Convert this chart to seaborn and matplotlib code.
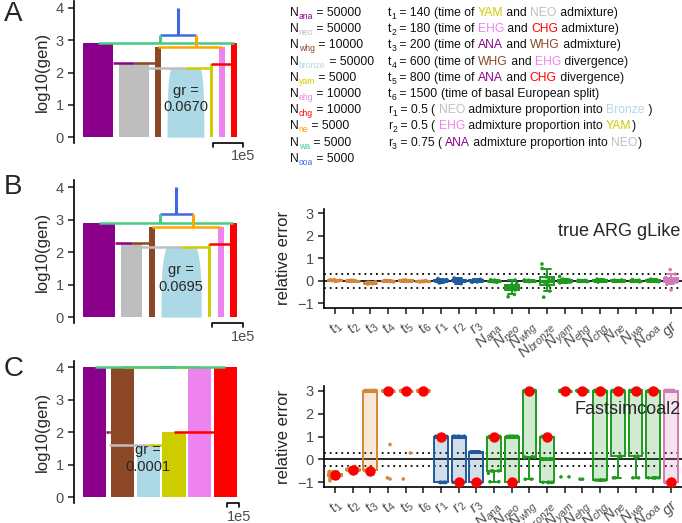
import numpy as np
import pandas as pd
import seaborn as sns
import matplotlib.pyplot as plt
from matplotlib.colors import to_rgba

# --- populations: colours and sizes used in the legend of panel A
pop_keys = ['ana', 'neo', 'whg', 'bronze', 'yam', 'ehg', 'chg', 'ne', 'wa', 'ooa']
pop_colors = ['#8B008B', '#BEBEBE', '#8B4726', '#ADD8E6', '#CDCD00',
              '#EE82EE', '#FF0000', '#FFA500', '#43CD80', '#4169E1']
pop_sizes = [50000, 50000, 10000, 50000, 5000, 10000, 10000, 5000, 5000, 5000]

time_values = [140, 180, 200, 600, 800, 1500]
time_notes = [
    [('(time of ', None), ('YAM', 'yam'), (' and ', None), ('NEO', 'neo'), (' admixture)', None)],
    [('(time of ', None), ('EHG', 'ehg'), (' and ', None), ('CHG', 'chg'), (' admixture)', None)],
    [('(time of ', None), ('ANA', 'ana'), (' and ', None), ('WHG', 'whg'), (' admixture)', None)],
    [('(time of ', None), ('WHG', 'whg'), (' and ', None), ('EHG', 'ehg'), (' divergence)', None)],
    [('(time of ', None), ('ANA', 'ana'), (' and ', None), ('CHG', 'chg'), (' divergence)', None)],
    [('(time of basal European split)', None)],
]
ratio_values = ['0.5', '0.5', '0.75']
ratio_notes = [
    [('( ', None), ('NEO', 'neo'), (' admixture proportion into ', None), ('Bronze', 'bronze'), (' )', None)],
    [('( ', None), ('EHG', 'ehg'), (' admixture proportion into ', None), ('YAM', 'yam'), (')', None)],
    [('( ', None), ('ANA', 'ana'), (' admixture proportion into ', None), ('NEO', 'neo'), (')', None)],
]

# --- demography trees (sizes of ana, neo, whg, bronze, yam, ehg, chg; times t1..t6)
tree_keys = ['ana', 'neo', 'whg', 'bronze', 'yam', 'ehg', 'chg']
treeA_sizes = [50000, 50000, 10000, 50000, 5000, 10000, 10000]
treeA_times = [140, 180, 200, 600, 800, 1500]
treeA_bronze0 = 61500
treeA_gr = '0.0670'

treeB_sizes = [50000, 34000, 9500, 48000, 6000, 9500, 11000]
treeB_times = [141, 182, 190, 590, 800, 1500]
treeB_bronze0 = 64000
treeB_gr = '0.0695'

treeC_sizes = [100000, 0, 100000, 100000, 100000, 100000, 100000]
treeC_times = [39, 100, 100, 10000, 10000, 10000]
treeC_bronze0 = 100000
treeC_gr = '0.0001'

# --- relative errors
param_keys = ['t1', 't2', 't3', 't4', 't5', 't6', 'r1', 'r2', 'r3',
              'ana', 'neo', 'whg', 'bronze', 'yam', 'ehg', 'chg', 'ne', 'wa', 'ooa', 'gr']
param_labels = [r'$t_1$', r'$t_2$', r'$t_3$', r'$t_4$', r'$t_5$', r'$t_6$',
                r'$r_1$', r'$r_2$', r'$r_3$',
                r'$N_{ana}$', r'$N_{neo}$', r'$N_{whg}$', r'$N_{bronze}$', r'$N_{yam}$',
                r'$N_{ehg}$', r'$N_{chg}$', r'$N_{ne}$', r'$N_{wa}$', r'$N_{ooa}$', r'$gr$']
param_groups = ['t'] * 6 + ['r'] * 3 + ['N'] * 10 + ['gr']
group_keys = ['t', 'r', 'N', 'gr']
group_colors = ['#D4873A', '#1F5A9A', '#1E9A1E', '#D07CB6']

glike_errors = [
    [-0.02, 0.0, 0.01, 0.01, 0.02, 0.02, 0.03, 0.03, 0.04, 0.06],
    [-0.01, 0.0, 0.0, 0.0, 0.01, 0.01, 0.01, 0.02, 0.02, 0.03],
    [-0.14, -0.12, -0.11, -0.1, -0.09, -0.09, -0.08, -0.07, -0.06, -0.04],
    [-0.04, -0.03, -0.02, -0.02, -0.01, -0.01, 0.0, 0.0, 0.01, 0.02],
    [-0.02, -0.01, 0.0, 0.0, 0.01, 0.01, 0.02, 0.02, 0.03, 0.04],
    [-0.04, -0.03, -0.03, -0.02, -0.02, -0.01, -0.01, 0.0, 0.0, 0.01],
    [-0.09, -0.05, -0.03, -0.01, 0.0, 0.01, 0.02, 0.04, 0.06, 0.1],
    [-0.12, -0.06, -0.03, -0.01, 0.01, 0.02, 0.04, 0.06, 0.09, 0.13],
    [-0.06, -0.04, -0.02, -0.01, 0.0, 0.01, 0.02, 0.03, 0.04, 0.07],
    [-0.06, -0.04, -0.03, -0.01, 0.0, 0.01, 0.01, 0.02, 0.03, 0.05],
    [-0.7, -0.6, -0.4, -0.35, -0.3, -0.25, -0.22, -0.18, -0.1, 0.04],
    [-0.03, -0.02, -0.01, 0.0, 0.0, 0.01, 0.01, 0.02, 0.03, 0.04],
    [-0.72, -0.45, -0.2, -0.15, -0.05, 0.05, 0.1, 0.18, 0.55, 0.75],
    [-0.09, -0.05, -0.03, -0.02, 0.0, 0.0, 0.02, 0.04, 0.08, 0.2],
    [-0.03, -0.02, -0.01, 0.0, 0.0, 0.01, 0.01, 0.02, 0.02, 0.03],
    [-0.05, -0.02, -0.01, 0.0, 0.0, 0.01, 0.02, 0.03, 0.05, 0.08],
    [-0.02, -0.01, 0.0, 0.0, 0.01, 0.01, 0.02, 0.02, 0.03, 0.04],
    [-0.04, -0.02, -0.01, 0.0, 0.0, 0.01, 0.01, 0.02, 0.03, 0.06],
    [-0.03, -0.02, -0.01, 0.0, 0.01, 0.01, 0.02, 0.03, 0.05, 0.08],
    [-0.4, -0.15, -0.05, 0.0, 0.03, 0.06, 0.1, 0.15, 0.3, 0.5],
]

fsc_errors = [
    [-0.93, -0.85, -0.8, -0.76, -0.74, -0.72, -0.71, -0.7, -0.7, -0.69,
     -0.69, -0.68, -0.67, -0.66, -0.64, -0.62, -0.6, -0.57, -0.55, -0.52],
    [-0.5, -0.48, -0.47, -0.46, -0.46, -0.45, -0.45, -0.45, -0.44, -0.44,
     -0.44, -0.43, -0.43, -0.42, -0.42, -0.41, -0.4, -0.38, -0.36, -0.3],
    [-0.5] + [-0.48] * 5 + [3.0] * 14,
    [-0.85, -0.8, 0.65] + [3.0] * 17,
    [-0.85, 0.28] + [3.0] * 18,
    [3.0] * 20,
    [-1.0] * 6 + [1.0] * 14,
    [-1.0] * 6 + [1.0] * 14,
    [-1.0] * 6 + [0.333] * 14,
    [-0.97, -0.97, -0.6, -0.5, -0.5, -0.5] + [1.0] * 14,
    [-1.0] * 6 + [1.0] * 14,
    [-0.86, -0.86, 0.1, 0.1, 0.1, 0.12] + [3.0] * 14,
    [-1.0] * 6 + [0.03] * 8 + [1.0] * 6,
    [-0.76, -0.76] + [3.0] * 18,
    [-0.86, -0.86] + [3.0] * 18,
    [-0.9] * 6 + [3.0] * 14,
    [-0.8, -0.8] + [0.13] * 4 + [3.0] * 14,
    [-0.8, -0.8] + [0.13] * 4 + [3.0] * 14,
    [-0.8] * 6 + [3.0] * 14,
    [-1.0] * 6 + [3.0] * 14,
]
fsc_example = [-0.69, -0.45, -0.5, 3, 3, 3, 1, -1, -1, 1, -1, 3, 1, 3, 3, 3, 3, 3, 3, -1]

# --- style
sns.set_theme(style='ticks')
plt.rcParams['font.family'] = ['Liberation Sans', 'DejaVu Sans']
plt.rcParams['mathtext.fontset'] = 'custom'
plt.rcParams['mathtext.it'] = 'Liberation Sans:italic'
plt.rcParams['mathtext.rm'] = 'Liberation Sans'
plt.rcParams['axes.edgecolor'] = 'black'
plt.rcParams['axes.linewidth'] = 1.2
plt.rcParams['xtick.color'] = '#333333'
plt.rcParams['ytick.color'] = '#333333'
plt.rcParams['xtick.labelcolor'] = '#4D4D4D'
plt.rcParams['ytick.labelcolor'] = '#4D4D4D'

W, H = 682, 523
fig = plt.figure(figsize=(W / 100, H / 100), dpi=100)
renderer = fig.canvas.get_renderer()
cols = dict(zip(pop_keys, pop_colors))


def px_axes(left, top, right, bottom):
    return fig.add_axes([left / W, 1 - bottom / H, (right - left) / W, (bottom - top) / H])


def draw_tree(ax, sizes, times, bronze0, gr):
    gap = 2e4
    widths = np.array([2.0 * n for n in sizes])
    widths[3] = 2.0 * bronze0
    left = np.concatenate([[0], np.cumsum(widths + gap)[:-1]])
    right = left + widths
    mid = left + widths / 2
    span = right[-1]
    lt = np.log10(times)
    tops = [lt[4], lt[2], lt[3], lt[0], lt[1], lt[3], lt[4]]
    for i, key in enumerate(tree_keys):
        if key == 'bronze':
            y = np.linspace(0, lt[0], 100)
            g = 10 ** y
            w = widths[i] * (sizes[i] / bronze0) ** ((g - 1) / (times[0] - 1))
            ax.fill_betweenx(y, mid[i] - w / 2, mid[i] + w / 2, color=cols[key], lw=0, zorder=1)
        elif widths[i] > 0:
            ax.bar(mid[i], tops[i], width=widths[i], color=cols[key], lw=0, zorder=1)

    def seg(x0, x1, y0, y1, key, lw=1.8):
        ax.plot([x0, x1], [y0, y1], color=cols[key], lw=lw, solid_capstyle='butt', zorder=2)

    # admixture events
    seg(right[0], mid[1], lt[2], lt[2], 'ana')
    seg(mid[1], left[2], lt[2], lt[2], 'whg')
    seg(mid[1], mid[3], lt[0], lt[0], 'neo')
    seg(mid[3], mid[4], lt[0], lt[0], 'yam')
    seg(mid[4], mid[6], lt[1], lt[1], 'chg')
    # ancestral lineages
    x_wa = (left[0] + right[6]) / 2
    x_ne = (left[2] + right[6]) / 2
    x_ooa = (x_wa + x_ne) / 2
    seg(mid[2], mid[5], lt[3], lt[3], 'ne')
    seg(x_wa, x_ne, lt[5], lt[5], 'ooa')
    seg(mid[0], mid[6], lt[4], lt[4], 'wa')
    seg(x_wa, x_wa, lt[4], lt[5], 'wa', 2.2)
    seg(x_ne, x_ne, lt[3], lt[5], 'ne', 2.2)
    seg(x_ooa, x_ooa, lt[5], 4.0, 'ooa', 2.2)

    # scale bar
    x1 = span + gap
    x0 = x1 - 1e5
    ax.plot([x0, x0, x1, x1], [-0.31, -0.19, -0.19, -0.31], color='black', lw=1.2, clip_on=False)
    ax.text(x1, -0.38, '1e5', ha='center', va='top', fontsize=10.5, color='#4D4D4D')
    ax.text(mid[3], 1.18, 'gr =\n' + gr, ha='center', va='center', fontsize=10.5,
            linespacing=1.25, zorder=4)

    ax.set_xlim(-0.06 * span, 1.06 * span)
    ax.set_ylim(-0.18, 4.2)
    ax.set_yticks([0, 1, 2, 3, 4])
    ax.set_xticks([])
    ax.tick_params(axis='y', labelsize=10.5, length=4)
    ax.set_ylabel('log10(gen)', fontsize=12)
    sns.despine(ax=ax, bottom=True)


def draw_errors(ax, errors, label, example=None):
    df = pd.DataFrame({'param': np.repeat(param_keys, [len(e) for e in errors]),
                       'err': np.concatenate(errors)})
    df['group'] = df['param'].map(dict(zip(param_keys, param_groups)))
    ax.axhline(0, color='black', lw=1.2, zorder=0)
    for yv in (-0.3, 0.3):
        ax.axhline(yv, color='black', lw=1.3, ls=(0, (1, 2.2)), zorder=0)
    for g, c in zip(group_keys, group_colors):
        sub = df[df['group'] == g]
        sns.boxplot(data=sub, x='param', y='err', order=param_keys, color=c, linecolor=c,
                    saturation=1, width=0.78, linewidth=1.4, showfliers=False,
                    medianprops={'linewidth': 2.2}, ax=ax)
    for p in ax.patches:
        p.set_facecolor(to_rgba(p.get_edgecolor(), 0.2))
    sns.stripplot(data=df, x='param', y='err', hue='group', order=param_keys,
                  hue_order=group_keys, palette=group_colors, dodge=False, jitter=0.33,
                  size=2.6, legend=False, ax=ax, zorder=3)
    if example is not None:
        sns.stripplot(x=param_keys, y=example, order=param_keys, color='red', size=7.5,
                      jitter=False, ax=ax, zorder=4)
    ax.set_xlim(-0.62, 19.63)
    ax.set_ylim(-1.2, 3.2)
    ax.set_yticks([-1, 0, 1, 2, 3])
    ax.set_xticks(range(len(param_keys)))
    ax.set_xticklabels(param_labels, rotation=45, ha='right', rotation_mode='anchor')
    ax.tick_params(axis='x', labelsize=11, length=4)
    ax.tick_params(axis='y', labelsize=10.5, length=4)
    ax.set_xlabel('')
    ax.set_ylabel('relative error', fontsize=12)
    ax.text(19.55, 2.17, label, ha='right', va='center', fontsize=13, zorder=5)
    sns.despine(ax=ax)


np.random.seed(3)

# panel A
axA = px_axes(74, 1.5, 246, 143)
draw_tree(axA, treeA_sizes, treeA_times, treeA_bronze0, treeA_gr)

# panel B
axB = px_axes(74, 180.5, 246, 323)
draw_tree(axB, treeB_sizes, treeB_times, treeB_bronze0, treeB_gr)
axB2 = px_axes(324, 208.7, 682, 308)
draw_errors(axB2, glike_errors, 'true ARG gLike')

# panel C
axC = px_axes(74, 360.5, 246, 503)
draw_tree(axC, treeC_sizes, treeC_times, treeC_bronze0, treeC_gr)
axC2 = px_axes(324, 386, 682, 487)
draw_errors(axC2, fsc_errors, 'Fastsimcoal2', fsc_example)

for letter, ytop in zip(['A', 'B', 'C'], [1, 174, 356]):
    fig.text(4 / W, 1 - ytop / H, letter, fontsize=20, va='top', ha='left')


# --- text legend of panel A (coloured words)
def text_width(s, size):
    t1 = fig.text(0, 0, '|' + s + '|', fontsize=size)
    t2 = fig.text(0, 0, '||', fontsize=size)
    w = t1.get_window_extent(renderer).width - t2.get_window_extent(renderer).width
    t1.remove()
    t2.remove()
    return w


def text_run(x, y, parts, size=8.7):
    for s, col, sub in parts:
        fs = size * 0.72 if sub else size
        yy = y + (3 if sub else 0)
        fig.text(x / W, 1 - yy / H, s, color=col, fontsize=fs, va='baseline', ha='left')
        x += text_width(s, fs)


ink = '#111111'
row_y = [16 + 16.2 * i for i in range(10)]
for i, key in enumerate(pop_keys):
    text_run(290, row_y[i], [('N', ink, False), (key, cols[key], True),
                              (' = %d' % pop_sizes[i], ink, False)])

rows = []
for i, (v, note) in enumerate(zip(time_values, time_notes)):
    rows.append([('t', ink, False), (str(i + 1), ink, True), (' = %d ' % v, ink, False)]
                + [(s, cols[k] if k else ink, False) for s, k in note])
for i, (v, note) in enumerate(zip(ratio_values, ratio_notes)):
    rows.append([('r', ink, False), (str(i + 1), ink, True), (' = %s ' % v, ink, False)]
                + [(s, cols[k] if k else ink, False) for s, k in note])
for i, parts in enumerate(rows):
    text_run(388, row_y[i], parts)

fig.savefig('out.png', dpi=100)
